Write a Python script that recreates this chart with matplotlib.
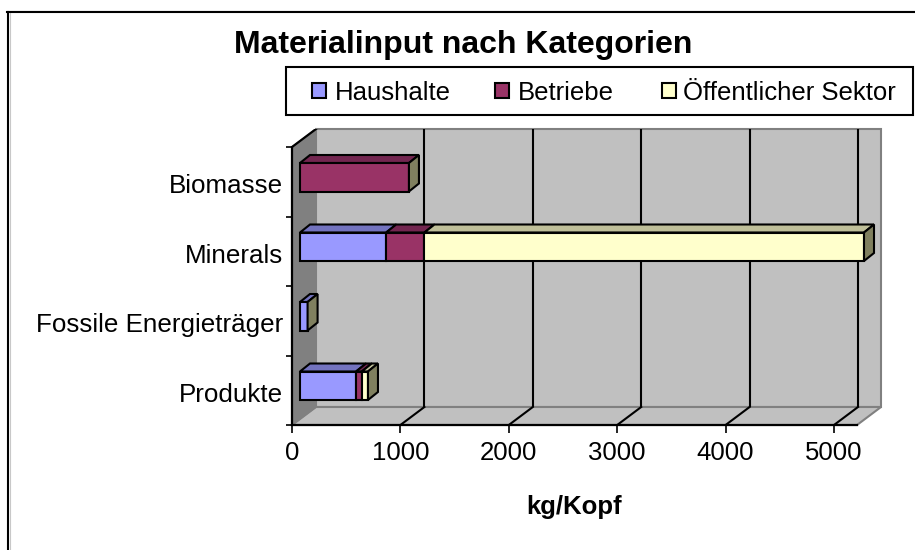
import numpy as np
import matplotlib
matplotlib.use("Agg")
from matplotlib import pyplot as plt
from matplotlib.patches import Polygon, Rectangle

plt.rcParams["font.family"] = ["Liberation Sans", "DejaVu Sans"]

kategorien = ["Produkte", "Fossile Energieträger", "Minerals", "Biomasse"]
sektoren = ["Haushalte", "Betriebe", "Öffentlicher Sektor"]
haushalte = [517, 70, 795, 0]
betriebe = [53, 0, 353, 1005]
oeffentlich = [57, 0, 4055, 0]
werte = [haushalte, betriebe, oeffentlich]

xticks = [0, 1000, 2000, 3000, 4000, 5000]
xlabel = "kg/Kopf"
titel = "Materialinput nach Kategorien"

farben = ["#9999FF", "#993366", "#FFFFCC"]
farben_top = ["#7373BF", "#732650", "#BFBF99"]
farbe_seite = "#80805F"

W, H = 915, 550
fig = plt.figure(figsize=(W / 100, H / 100), dpi=100)

# plot box in pixels, x scale 108.4 px per 1000, 69.5 px per category
x0, y0 = 292, 425
px_x = 108.4 / 1000
px_y = 69.5
right, top = 881, 129
ax = fig.add_axes([x0 / W, 1 - y0 / H, (right - x0) / W, (y0 - top) / H])
ax.set_xlim(0, (right - x0) / px_x)
ax.set_ylim(0, (y0 - top) / px_y)
ax.patch.set_visible(False)
for s in ax.spines.values():
    s.set_visible(False)

def dx(p):
    return p / px_x

def dy(p):
    return p / px_y

# depth of the box
tx, ty = dx(24), dy(18)
xmax = dx(857 - x0)
ymax = 4.0

ax.add_patch(Polygon([(tx, ty), (xmax + tx, ty), (xmax + tx, ymax + ty), (tx, ymax + ty)],
                     fc="#C0C0C0", ec="#808080", lw=1.5, zorder=1, clip_on=False))
ax.add_patch(Polygon([(0, 0), (xmax, 0), (xmax + tx, ty), (tx, ty)],
                     fc="#C0C0C0", ec="#808080", lw=1.5, zorder=1, clip_on=False))
ax.add_patch(Polygon([(0, 0), (tx, ty), (tx, ymax + ty), (0, ymax)],
                     fc="#808080", ec="#808080", lw=1, zorder=1))

for t in xticks[1:]:
    ax.plot([t + tx, t + tx], [ty, ymax + ty], color="black", lw=1.5, zorder=2, solid_capstyle="butt")
    ax.plot([t, t + tx], [0, ty], color="black", lw=1.5, zorder=2)

ax.plot([0, xmax], [0, 0], color="black", lw=1.6, zorder=3, clip_on=False)
ax.plot([0, 0], [0, ymax], color="black", lw=1.6, zorder=3, clip_on=False)
ax.plot([0, tx], [ymax, ymax + ty], color="black", lw=1.6, zorder=3)

# bars stand a bit off the front plane
ox, oy = dx(8), dy(6)
bx, by = dx(10), dy(8)
hoehe = 28.5 / px_y
pos = np.arange(len(kategorien)) + 0.5

for i, y in enumerate(pos):
    links = ox
    yb = y - hoehe / 2 + oy - dy(1.5)
    for j in range(3):
        v = werte[j][i]
        if v == 0:
            continue
        ax.add_patch(Polygon([(links, yb + hoehe), (links + v, yb + hoehe),
                              (links + v + bx, yb + hoehe + by), (links + bx, yb + hoehe + by)],
                             fc=farben_top[j], ec="black", lw=1.5, zorder=4))
        ax.add_patch(Rectangle((links, yb), v, hoehe, fc=farben[j], ec="black", lw=1.5, zorder=5))
        links += v
    ax.add_patch(Polygon([(links, yb), (links + bx, yb + by),
                          (links + bx, yb + hoehe + by), (links, yb + hoehe)],
                         fc=farbe_seite, ec="black", lw=1.5, zorder=5))

ax.set_xticks(xticks)
ax.tick_params(axis="x", length=5.5, width=1.2, labelsize=18.5, pad=6)
ax.set_yticks(range(5))
ax.set_yticklabels([])
# labels sit a little lower than the category centre
ax.set_yticks(pos - dy(2), minor=True)
ax.set_yticklabels(kategorien, minor=True, fontsize=18.7)
ax.tick_params(axis="y", which="major", length=4.5, width=1.2)
ax.tick_params(axis="y", which="minor", length=0, pad=6.5)

fig.text(574.5 / W, 1 - 507 / H, xlabel, fontsize=18.5, fontweight="bold", ha="center", va="center")
fig.text(463.5 / W, 1 - 45 / H, titel, fontsize=23, fontweight="bold", ha="center", va="center")

# outer frame, only left and top show up
fig.add_artist(plt.Line2D([9.5 / W, 9.5 / W], [1 - 12 / H, 0], color="#C8C8C8", lw=0.8))
fig.add_artist(plt.Line2D([7 / W, 1], [1 - 10.5 / H, 1 - 10.5 / H], color="#808080", lw=0.8))
fig.add_artist(plt.Line2D([8 / W, 8 / W], [1 - 12 / H, 0], color="black", lw=1.5))
fig.add_artist(plt.Line2D([7 / W, 1], [1 - 12 / H, 1 - 12 / H], color="black", lw=1.5))

# legend box
fig.add_artist(Rectangle((286 / W, 1 - 115 / H), 627 / W, 48 / H, fc="white", ec="black", lw=1.5,
                         transform=fig.transFigure))
for naam, f, xm, xt in zip(sektoren, farben, [312, 495, 662], [335, 518, 683]):
    fig.add_artist(Rectangle((xm / W, 1 - 97.5 / H), 14 / W, 14 / H, fc=f, ec="black", lw=1.5,
                             transform=fig.transFigure))
    fig.text(xt / W, 1 - 93 / H, naam, fontsize=18.5, ha="left", va="center")

fig.savefig("out.png", dpi=100)
